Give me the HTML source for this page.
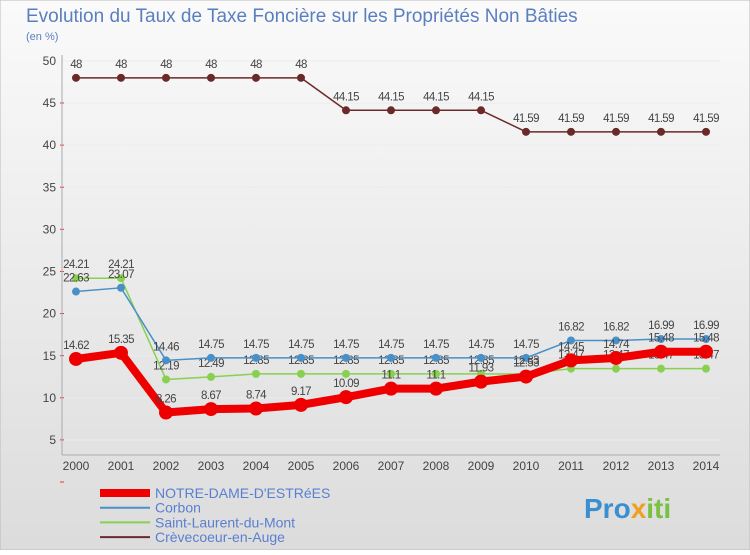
<!DOCTYPE html>
<html><head><meta charset="utf-8"><style>
body{margin:0;width:750px;height:550px;overflow:hidden;font-family:"Liberation Sans",sans-serif}
</style></head><body>
<svg width="750" height="550" xmlns="http://www.w3.org/2000/svg">
<defs><linearGradient id="bg" x1="0" y1="0" x2="0" y2="1"><stop offset="0" stop-color="#fafafa"/><stop offset="1" stop-color="#dcdcdc"/></linearGradient></defs>
<rect width="750" height="550" fill="url(#bg)" stroke="#bbb"/>
<text x="26" y="22" font-size="19" fill="#5a7fbf">Evolution du Taux de Taxe Foncière sur les Propriétés Non Bâties</text>
<text x="26" y="40" font-size="11" fill="#5a7fbf">(en %)</text>
<g id="axes"></g><g id="series"></g><g id="legend"></g>
<text x="584" y="518" font-size="28" font-weight="bold" fill="#3a8fd0">Pro<tspan fill="#f0a020">x</tspan><tspan fill="#7ac043">iti</tspan></text>
</svg>
<script>
const years=[2000,2001,2002,2003,2004,2005,2006,2007,2008,2009,2010,2011,2012,2013,2014];
const notreDame=[14.62,15.35,8.26,8.67,8.74,9.17,10.09,11.1,11.1,11.93,12.53,14.45,14.74,15.48,15.48];
const corbon=[22.63,23.07,14.46,14.75,14.75,14.75,14.75,14.75,14.75,14.75,14.75,16.82,16.82,16.99,16.99];
const saintLaurent=[24.21,24.21,12.19,12.49,12.85,12.85,12.85,12.85,12.85,12.85,12.83,13.47,13.47,13.47,13.47];
const crevecoeur=[48,48,48,48,48,48,44.15,44.15,44.15,44.15,41.59,41.59,41.59,41.59,41.59];
const yTicks=[5,10,15,20,25,30,35,40,45,50];
const NS="http://www.w3.org/2000/svg";
const x=i=>76+i*45, y=v=>440-(v-5)*(379/45);
function mk(t,a,p){const e=document.createElementNS(NS,t);for(const k in a)e.setAttribute(k,a[k]);p.appendChild(e);return e;}
const ax=document.getElementById('axes');
for(const t of yTicks){
 const g=mk('line',{x1:62,x2:720,y1:y(t),y2:y(t),stroke:'#ececec'},ax);
 
 
 mk('line',{x1:60,x2:64,y1:y(t)+42,y2:y(t)+42,stroke:'#e33'},ax);
 const l=mk('text',{x:56,y:y(t)+4,'font-size':12,'text-anchor':'end',fill:'#444'},ax);l.textContent=t;
 
 
}
mk('line',{x1:62,x2:62,y1:55,y2:455,stroke:'#aaa'},ax);
mk('line',{x1:62,x2:720,y1:455,y2:455,stroke:'#aaa'},ax);
years.forEach((yr,i)=>{const l=mk('text',{x:x(i),y:470,'font-size':12,'text-anchor':'middle',fill:'#444'},ax);l.textContent=yr;
 
 });
const S=document.getElementById('series');
function series(vals,color,w,r,name){
 const g=mk('g',{},S);
 
 
 mk('polyline',{points:vals.map((v,i)=>x(i)+','+y(v)).join(' '),fill:'none',stroke:color,'stroke-width':w,'stroke-linejoin':'round'},g);
 vals.forEach((v,i)=>{const c=mk('circle',{cx:x(i),cy:y(v),r:r,fill:color},g);
  
  
  const t=mk('text',{x:x(i),y:y(v)-10,'font-size':11.5,'text-anchor':'middle',fill:'#444','letter-spacing':'-0.6'},g);t.textContent=v;
  
  });
}
series(crevecoeur,'#6b2a2a',1.5,4,'series-crevecoeur');
series(saintLaurent,'#88d050',1.5,4,'series-saint-laurent');
series(corbon,'#4a90c8',1.5,4,'series-corbon');
series(notreDame,'#ee0000',8,7,'series-notre-dame');
const L=document.getElementById('legend');
[['NOTRE-DAME-D\'ESTRéES','#ee0000',8],['Corbon','#4a90c8',2],['Saint-Laurent-du-Mont','#88d050',2],['Crèvecoeur-en-Auge','#6b2a2a',2]].forEach((d,i)=>{
 const g=mk('g',{},L);
 
 
 const yy=493+i*14.7;
 mk('line',{x1:100,x2:150,y1:yy,y2:yy,stroke:d[1],'stroke-width':d[2]},g);
 const t=mk('text',{x:155,y:yy+5,'font-size':14,fill:'#5a7fd0'},g);t.textContent=d[0];
});
</script>
</body></html>
